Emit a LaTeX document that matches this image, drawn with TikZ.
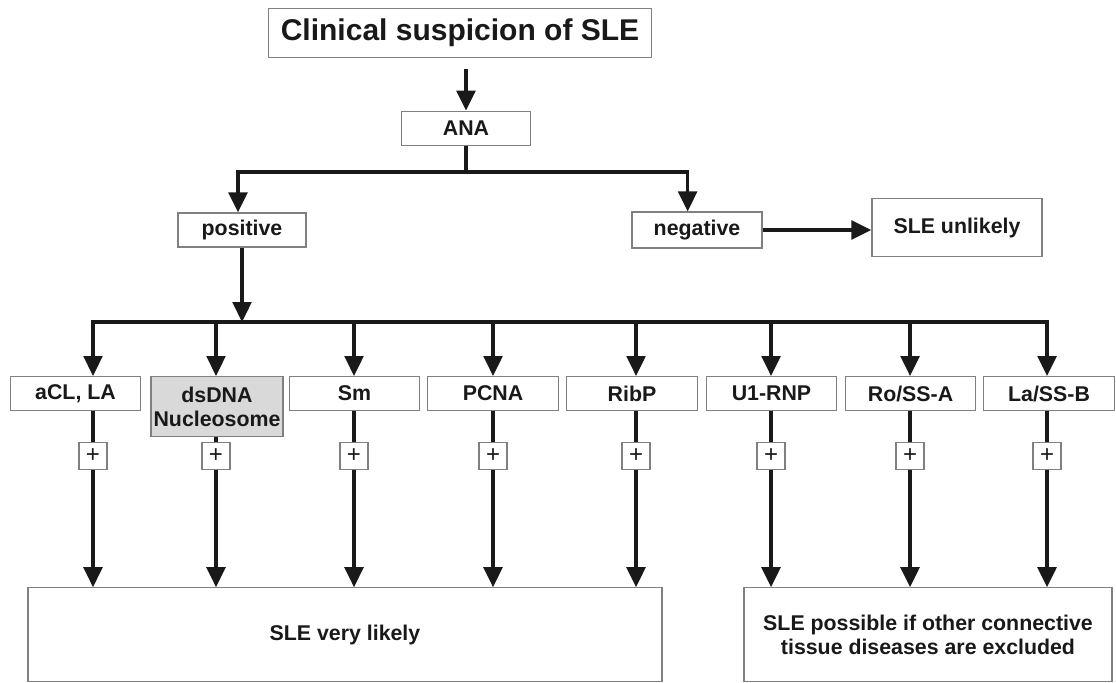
\documentclass[tikz,border=0pt]{standalone}
\usepackage{fontspec}
\setmainfont{Liberation Sans}
\usetikzlibrary{positioning}
\usetikzlibrary{arrows.meta}
\definecolor{boxline}{gray}{0.5}
\definecolor{dsfill}{gray}{0.85}
\definecolor{ink}{gray}{0.1}
\tikzset{
	lbox/.style={draw=boxline, line width=0.9pt, fill=white, text=ink, align=center, inner sep=2pt,
		font=\bfseries\fontsize{16}{18}\selectfont},
	plusbox/.style={draw=boxline, line width=0.8pt, fill=white, text=ink, inner sep=0pt,
		minimum width=21pt, minimum height=20pt, font=\fontsize{18}{18}\selectfont},
	flow/.style={draw=ink, line width=2.7pt},
	flowarrow/.style={flow, -{Triangle[length=15pt,width=14pt]}}
}

\begin{document}
\begin{tikzpicture}[x=0.75pt, y=-0.75pt]
	\useasboundingbox (0,0) rectangle (1116,682);
	
	\node[lbox, minimum width=287pt, minimum height=37pt, font=\bfseries\fontsize{22.5}{26}\selectfont] (suspicion) at (460,33) {Clinical suspicion of SLE};
	\node[lbox, minimum width=97pt, minimum height=26pt] (ana) at (466,128.5) {ANA};
	\node[lbox, minimum width=96pt, minimum height=25.5pt] (positive) at (242,230) {positive};
	\node[lbox, minimum width=97.5pt, minimum height=27pt] (negative) at (697,230) {negative};
	\node[lbox, minimum width=127.5pt, minimum height=43pt] (unlikely) at (957,227.5) {SLE unlikely};
	
	\node[lbox, minimum width=475.5pt, minimum height=70pt] (likely) at (345,634.5) {SLE very likely};
	\node[lbox, minimum width=276pt, minimum height=70pt] (possible) at (928,634.5) {SLE possible if other connective\\tissue diseases are excluded};
	
	\draw[flowarrow, shorten <=8pt] (suspicion.south -| ana.north) -- (ana.north);
	
	\coordinate (fork) at (466,172);
	\draw[flow] (ana.south) -- (fork);
	\draw[flowarrow] (fork) -| ([xshift=-3pt]positive.north);
	\draw[flowarrow] (fork) -| ([xshift=-7pt]negative.north);
	\draw[flowarrow] (negative.east) -- (negative.east -| unlikely.west);
	
	% antibody columns
	\foreach \name/\cx/\ax/\mh/\fc/\res/\txt in {
			acl/75.5/93/25.5/white/likely/{aCL, LA},
			ds/217/216/45/dsfill/likely/{dsDNA\\Nucleosome},
			sm/354.5/354/25.5/white/likely/{Sm},
			pcna/493/493/25.5/white/likely/{PCNA},
			ribp/632/636/25.5/white/likely/{RibP},
			rnp/771.5/771/25.5/white/possible/{U1-RNP},
			ssa/910.5/910/25.5/white/possible/{Ro/SS-A},
			ssb/1049/1047/25.5/white/possible/{La/SS-B}}{
		\node[lbox, anchor=north, minimum width=98pt, minimum height=\mh pt, fill=\fc] (\name) at (\cx,376) {\txt};
		\node[plusbox] (plus-\name) at (\ax,456) {+};
		\coordinate (drop-\name) at (\ax,322);
		\draw[flowarrow] (drop-\name) -- (drop-\name |- \name.north);
		\draw[flow] (plus-\name |- \name.south) -- (plus-\name.north);
		\draw[flowarrow] (plus-\name.south) -- (plus-\name |- \res.north);
	}
	
	\draw[flow, line cap=rect] (drop-acl) -- (drop-ssb);
	\draw[flowarrow] (positive.south) -- (positive.south |- drop-acl);
\end{tikzpicture}
\end{document}
